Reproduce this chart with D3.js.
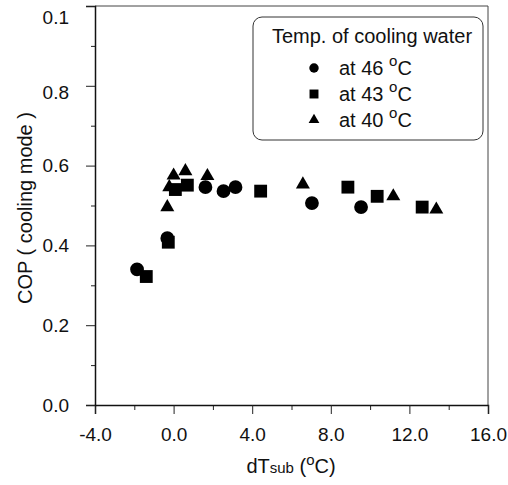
<!DOCTYPE html>
<html>
<head>
<meta charset="utf-8">
<script src="https://cdn.jsdelivr.net/npm/d3@7"></script>
<style>
  body { margin: 0; background: #fff; }
  text { font-family: "Liberation Sans", Arial, sans-serif; fill: #111; }
</style>
</head>
<body>
<div id="viz"></div>
<script>
// data
var x46 = [-1.86, -0.32, 1.62, 2.54, 3.15, 7.04, 9.54];
var y46 = [0.34, 0.418, 0.546, 0.536, 0.546, 0.506, 0.496];
var x43 = [-1.39, -0.27, 0.09, 0.70, 4.43, 8.87, 10.36, 12.65];
var y43 = [0.322, 0.408, 0.54, 0.551, 0.536, 0.546, 0.523, 0.496];
var x40 = [-0.32, -0.22, 0.0, 0.6, 1.72, 6.58, 11.18, 13.37];
var y40 = [0.496, 0.546, 0.575, 0.586, 0.574, 0.553, 0.523, 0.49];

var xTicks = [-4, 0, 4, 8, 12, 16];
var xTickLabels = ["-4.0", "0.0", "4.0", "8.0", "12.0", "16.0"];
var yTicks = [0, 0.2, 0.4, 0.6, 0.8, 1.0];
var yTickLabels = ["0.0", "0.2", "0.4", "0.6", "0.8", "0.1"];
var legendLabels = ["at 46 ", "at 43 ", "at 40 "];

// set the dimensions
var width = 508, height = 485;
var margin = {left: 95, right: 488, top: 6, bottom: 405};

var svg = d3.select("#viz")
  .append("svg")
    .attr("width", width)
    .attr("height", height);

var x = d3.scaleLinear().domain([-4, 16]).range([margin.left, margin.right]);
var y = d3.scaleLinear().domain([0, 1]).range([margin.bottom, margin.top]);

// frame (top and right)
svg.append("path")
  .attr("d", "M" + margin.left + "," + margin.top + "H" + margin.right + "V" + margin.bottom)
  .attr("fill", "none")
  .attr("stroke", "#444")
  .attr("stroke-width", 1);

// minor ticks
svg.append("g")
  .attr("transform", "translate(0," + margin.bottom + ")")
  .call(d3.axisBottom(x).tickValues(d3.range(-2, 16, 4)).tickSize(5).tickFormat(""))
  .call(function(g) { g.select(".domain").remove(); });
svg.append("g")
  .attr("transform", "translate(" + margin.left + ",0)")
  .call(d3.axisLeft(y).tickValues(d3.range(0.1, 1, 0.2)).tickSize(4).tickFormat(""))
  .call(function(g) { g.select(".domain").remove(); });

// major axes
var xAxis = svg.append("g")
  .attr("transform", "translate(0," + margin.bottom + ")")
  .call(d3.axisBottom(x).tickValues(xTicks).tickSize(9).tickPadding(14)
    .tickFormat(function(d, i) { return xTickLabels[i]; }));
var yAxis = svg.append("g")
  .attr("transform", "translate(" + margin.left + ",0)")
  .call(d3.axisLeft(y).tickValues(yTicks).tickSize(9).tickPadding(17)
    .tickFormat(function(d, i) { return yTickLabels[i]; }));

[xAxis, yAxis].forEach(function(g) {
  g.select(".domain").attr("stroke", "#111").attr("stroke-width", 1.5);
  g.selectAll("text").style("font-size", "19px").attr("fill", "#111");
});
svg.selectAll(".tick line").attr("stroke", "#222");
// top labels sit a little low in the original
yAxis.selectAll(".tick text").attr("y", function(d) { return d === 1 ? 11 : d === 0.8 ? 7 : 0; });

// axis titles
svg.append("text")
  .attr("transform", "translate(32,208) rotate(-90)")
  .attr("text-anchor", "middle")
  .style("font-size", "20px")
  .text("COP ( cooling mode )");

var xt = svg.append("text")
  .attr("x", 291)
  .attr("y", 473)
  .attr("text-anchor", "middle")
  .style("font-size", "20px");
xt.append("tspan").text("dT");
xt.append("tspan").style("font-size", "15px").text("sub");
xt.append("tspan").text(" (");
xt.append("tspan").attr("dy", -8).style("font-size", "15px").text("o");
xt.append("tspan").attr("dy", 8).text("C)");

// markers
var symCircle = d3.symbol().type(d3.symbolCircle).size(150);
var symSquare = d3.symbol().type(d3.symbolSquare).size(165);
var symTriangle = d3.symbol().type(d3.symbolTriangle).size(85);

function plot(xs, ys, sym) {
  svg.append("g")
    .selectAll("path")
    .data(xs.map(function(d, i) { return [d, ys[i]]; }))
    .enter()
    .append("path")
      .attr("d", sym)
      .attr("fill", "#000")
      .attr("transform", function(d) { return "translate(" + x(d[0]) + "," + y(d[1]) + ")"; });
}
plot(x43, y43, symSquare);
plot(x46, y46, symCircle);
plot(x40, y40, symTriangle);

// legend
var lg = svg.append("g");
lg.append("rect")
  .attr("x", 253).attr("y", 17)
  .attr("width", 230).attr("height", 123)
  .attr("rx", 9)
  .attr("fill", "#fff")
  .attr("stroke", "#333")
  .attr("stroke-width", 1);
lg.append("text")
  .attr("x", 372).attr("y", 43)
  .attr("text-anchor", "middle")
  .style("font-size", "20px")
  .text("Temp. of cooling water");

var legSyms = [d3.symbol().type(d3.symbolCircle).size(70),
               d3.symbol().type(d3.symbolSquare).size(80),
               d3.symbol().type(d3.symbolTriangle).size(50)];
legendLabels.forEach(function(t, i) {
  var ly = 68 + i * 26;
  lg.append("path")
    .attr("d", legSyms[i])
    .attr("fill", "#000")
    .attr("transform", "translate(314," + ly + ")");
  var tx = lg.append("text")
    .attr("x", 339).attr("y", ly + 7)
    .style("font-size", "20px");
  tx.append("tspan").text(t);
  tx.append("tspan").attr("dy", -9).style("font-size", "15px").text("o");
  tx.append("tspan").attr("dy", 9).text("C");
});
</script>
</body>
</html>
